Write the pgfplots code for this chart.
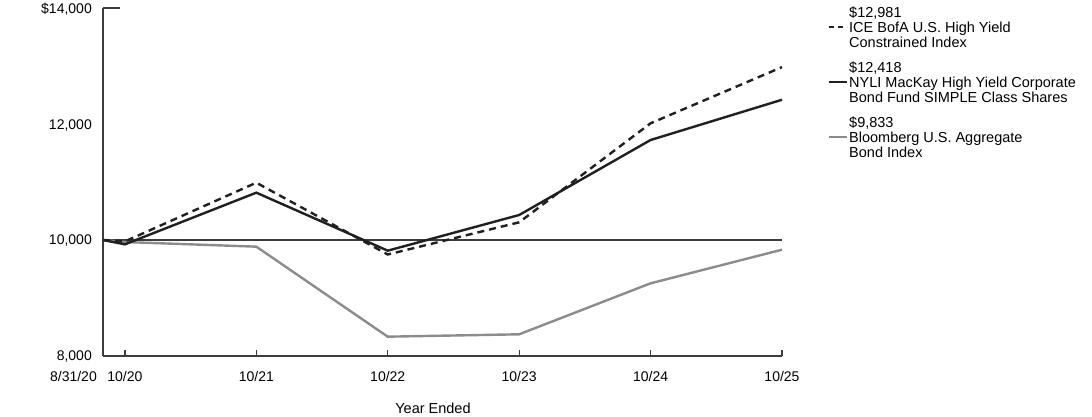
\documentclass[border=0pt]{standalone}
\usepackage{pgfplots}
\pgfplotsset{compat=1.18}
\usepackage{fontspec}
\setmainfont{Liberation Sans}
\definecolor{fund}{HTML}{231F20}
\definecolor{bbg}{HTML}{8C8C8C}
\definecolor{axisgray}{HTML}{3C3C3C}
\begin{document}
\begin{tikzpicture}[x=1pt,y=1pt]
\useasboundingbox (-103,-61) rectangle (989,356);
\begin{axis}[
 at={(0,0)}, anchor=south west,
 scale only axis, width=679pt, height=348pt,
 xmin=0, xmax=62, ymin=8000, ymax=14000,
 scaled y ticks=false, scaled x ticks=false,
 axis x line=bottom, axis y line=left,
 axis line style={axisgray, line width=1.3pt, -},
 xtick={2,14,26,38,50,62},
 xticklabels={10/20,10/21,10/22,10/23,10/24,10/25},
 extra x ticks={0}, extra x tick labels={8/31/20},
 extra x tick style={major tick length=0pt, xticklabel style={anchor=base east, xshift=-6pt}},
 tick align=inside, major tick length=6pt,
 xtick style={axisgray, line width=1.3pt},
 ytick={8000,10000,12000,14000},
 yticklabels={{8,000},{10,000},{12,000},{\$14,000}},
 ytick style={draw=none},
 xticklabel style={anchor=base, inner sep=0pt, yshift=-26pt},
 yticklabel style={anchor=base east, inner sep=0pt, xshift=-11pt, yshift=-5pt},
 tick label style={font=\fontsize{14}{15}\selectfont, text=black},
 clip=false,
]
\addplot[forget plot, axisgray, line width=1.2pt] coordinates {(0,10000) (62,10000)};
\addplot[bbg, line width=2.4pt] coordinates {
 (0,10000) (2,9965) (14,9885) (26,8333) (38,8374) (50,9253) (62,9833)};
\addplot[fund, line width=2.4pt] coordinates {
 (0,10000) (2,9925) (14,10816) (26,9816) (38,10431) (50,11724) (62,12418)};
\addplot[fund, line width=2.4pt, dash pattern=on 7pt off 5pt] coordinates {
 (0,10000) (2,9975) (14,10988) (26,9750) (38,10305) (50,12012) (62,12981)};
\end{axis}
\draw[axisgray, line width=1.3pt] (0,348) -- (17,348);
\node[font=\fontsize{14.5}{15.5}\selectfont] at (330,-52) {Year Ended};
\begin{scope}[every node/.style={anchor=west, align=left, inner sep=0pt, font=\fontsize{14.5}{15}\selectfont}]
\node at (746,329) {\$12,981\\ICE BofA U.S. High Yield\\Constrained Index};
\draw[fund, line width=2.4pt, dash pattern=on 5pt off 4pt] (726,329) -- (744,329);
\node at (746,274) {\$12,418\\NYLI MacKay High Yield Corporate\\Bond Fund SIMPLE Class Shares};
\draw[fund, line width=2.4pt] (726,274) -- (744,274);
\node at (746,219) {\$9,833\\Bloomberg U.S. Aggregate\\Bond Index};
\draw[bbg, line width=2.4pt] (726,219) -- (744,219);
\end{scope}
\end{tikzpicture}
\end{document}
